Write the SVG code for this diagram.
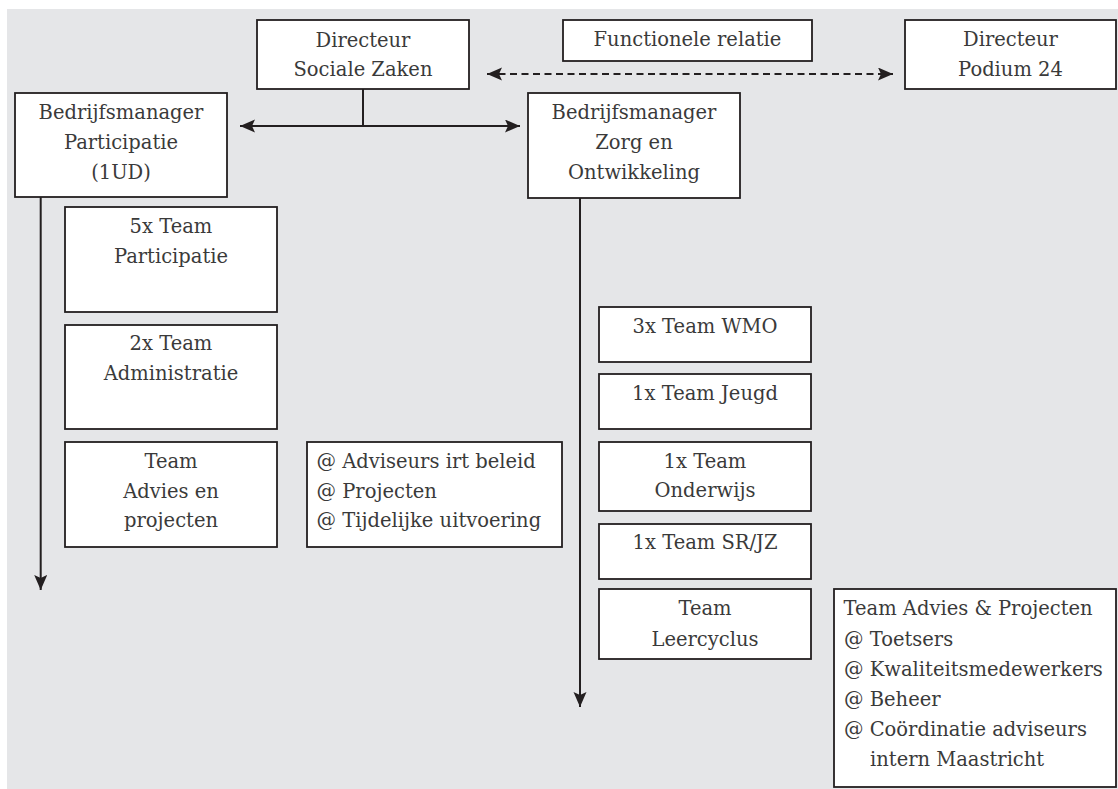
<svg xmlns="http://www.w3.org/2000/svg" width="1118" height="789" viewBox="0 0 1118 789">
<style>
.box{fill:#fff;stroke:#231f20;stroke-width:1.8}
.t{font-family:"DejaVu Serif","Liberation Serif",serif;font-size:19.5px;fill:#3a3a3a}
.c{text-anchor:middle}
.ln{stroke:#231f20;stroke-width:2;fill:none}
.dash{stroke-dasharray:7 4.5}
</style>
<defs>
<marker id="ah" markerUnits="userSpaceOnUse" markerWidth="16" markerHeight="14" refX="15" refY="6.5" orient="auto-start-reverse">
<path d="M0,0 L15,6.5 L0,13 L3,6.5 Z" fill="#231f20"/>
</marker>
</defs>
<rect x="7" y="9" width="1111" height="780" fill="#e5e6e8"/>
<g id="connectors">
<path class="ln" d="M363,78 V126"/>
<path class="ln" d="M240,126 H520" marker-start="url(#ah)" marker-end="url(#ah)"/>
<path class="ln dash" d="M487,74 H893" marker-start="url(#ah)" marker-end="url(#ah)"/>
<path class="ln" d="M40.7,197 V590" marker-end="url(#ah)"/>
<path class="ln" d="M580,198 V707" marker-end="url(#ah)"/>
</g>
<g id="dir-sz"><rect class="box" x="257" y="20" width="212" height="69"/>
<text class="t c" x="363" y="46.5">Directeur</text><text class="t c" x="363" y="76">Sociale Zaken</text></g>
<g id="func"><rect class="box" x="563" y="20" width="249" height="41"/>
<text class="t c" x="687.5" y="46">Functionele relatie</text></g>
<g id="dir-p24"><rect class="box" x="905" y="20" width="211" height="69"/>
<text class="t c" x="1010.5" y="46">Directeur</text><text class="t c" x="1010.5" y="76">Podium 24</text></g>
<g id="bm-part"><rect class="box" x="15" y="93" width="212" height="104"/>
<text class="t c" x="121" y="119">Bedrijfsmanager</text><text class="t c" x="121" y="149">Participatie</text><text class="t c" x="121" y="179">(1UD)</text></g>
<g id="bm-zorg"><rect class="box" x="528" y="93" width="212" height="105"/>
<text class="t c" x="634" y="119">Bedrijfsmanager</text><text class="t c" x="634" y="149">Zorg en</text><text class="t c" x="634" y="179">Ontwikkeling</text></g>
<g id="team-part"><rect class="box" x="65" y="207" width="212" height="105"/>
<text class="t c" x="171" y="233">5x Team</text><text class="t c" x="171" y="263">Participatie</text></g>
<g id="team-adm"><rect class="box" x="65" y="325" width="212" height="104"/>
<text class="t c" x="171" y="350">2x Team</text><text class="t c" x="171" y="380">Administratie</text></g>
<g id="team-adv"><rect class="box" x="65" y="442" width="212" height="105"/>
<text class="t c" x="171" y="468">Team</text><text class="t c" x="171" y="498">Advies en</text><text class="t c" x="171" y="527">projecten</text></g>
<g id="adv-list"><rect class="box" x="307" y="442" width="255" height="105"/>
<text class="t" x="316.5" y="468">@ Adviseurs irt beleid</text><text class="t" x="316.5" y="498">@ Projecten</text><text class="t" x="316.5" y="527">@ Tijdelijke uitvoering</text></g>
<g id="team-wmo"><rect class="box" x="599" y="307" width="212" height="55"/>
<text class="t c" x="705" y="333">3x Team WMO</text></g>
<g id="team-jeugd"><rect class="box" x="599" y="374" width="212" height="55"/>
<text class="t c" x="705" y="400">1x Team Jeugd</text></g>
<g id="team-ond"><rect class="box" x="599" y="442" width="212" height="69"/>
<text class="t c" x="705" y="468">1x Team</text><text class="t c" x="705" y="497">Onderwijs</text></g>
<g id="team-sr"><rect class="box" x="599" y="524" width="212" height="55"/>
<text class="t c" x="705" y="549">1x Team SR/JZ</text></g>
<g id="team-leer"><rect class="box" x="599" y="589" width="212" height="70"/>
<text class="t c" x="705" y="615">Team</text><text class="t c" x="705" y="646">Leercyclus</text></g>
<g id="team-ap"><rect class="box" x="834" y="589" width="282" height="198"/>
<text class="t" x="843.5" y="615">Team Advies &amp; Projecten</text><text class="t" x="844" y="646">@ Toetsers</text><text class="t" x="844" y="676">@ Kwaliteitsmedewerkers</text><text class="t" x="844" y="706">@ Beheer</text><text class="t" x="844" y="736">@ Coördinatie adviseurs</text><text class="t" x="870" y="766">intern Maastricht</text></g>
</svg>
